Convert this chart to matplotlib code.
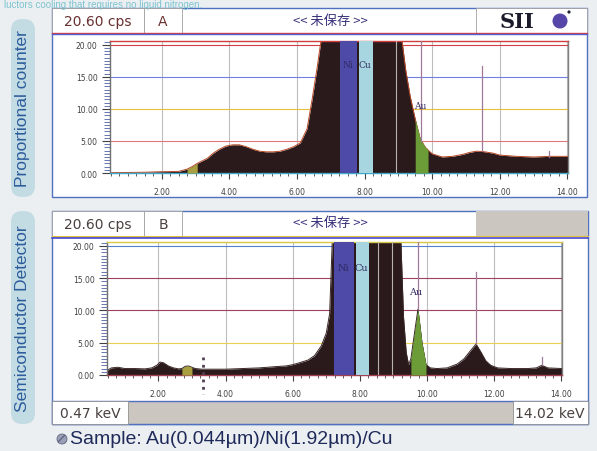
import matplotlib.pyplot as plt
from matplotlib.patches import Rectangle, FancyBboxPatch, Circle
import numpy as np

# ---- data (keV, cps) ----
kev_a = [0.47, 1.0, 1.5, 2.0, 2.5, 2.75, 2.9, 3.05, 3.2, 3.35, 3.5, 3.7, 3.9, 4.1, 4.3,
         4.5, 4.7, 4.9, 5.1, 5.3, 5.5, 5.7, 5.9, 6.1, 6.3, 6.45, 6.6, 6.72, 9.1, 9.22,
         9.35, 9.5, 9.65, 9.8, 9.88, 10.0, 10.3, 10.6, 10.9, 11.1, 11.3, 11.5, 11.8,
         12.0, 12.5, 13.0, 13.5, 14.02]
cps_a = [0.05, 0.08, 0.12, 0.2, 0.25, 0.6, 1.0, 1.5, 1.9, 2.3, 3.0, 3.7, 4.2, 4.4, 4.4,
         4.1, 3.7, 3.4, 3.3, 3.3, 3.4, 3.7, 4.1, 4.7, 6.9, 11.5, 16.5, 21.0, 21.0, 16.0,
         12.0, 8.4, 5.3, 4.0, 3.6, 3.0, 2.5, 2.6, 2.9, 3.2, 3.4, 3.35, 3.1,
         2.8, 2.6, 2.5, 2.6, 2.6]

kev_b = [0.47, 0.6, 0.8, 1.0, 1.3, 1.6, 1.8, 1.95, 2.05, 2.15, 2.3, 2.45, 2.6, 2.7, 2.8,
         2.9, 3.0, 3.1, 3.3, 3.6, 4.0, 4.5, 5.0, 5.5, 5.8, 6.0, 6.2, 6.45, 6.65, 6.85,
         7.0, 7.1, 7.18, 9.22, 9.3, 9.38, 9.45, 9.52, 9.6, 9.73, 9.85, 9.97, 10.1, 10.3,
         10.6, 10.9, 11.1, 11.3, 11.46, 11.6, 11.75, 11.9, 12.1, 12.5, 13.0, 13.25,
         13.42, 13.6, 14.02]
cps_b = [0.7, 1.1, 1.2, 1.0, 1.0, 0.95, 1.1, 1.5, 2.0, 1.9, 1.4, 1.1, 0.95, 1.0, 1.35,
         1.4, 1.2, 1.0, 0.9, 0.9, 0.9, 1.0, 1.1, 1.3, 1.4, 1.6, 1.9, 2.3, 3.0, 4.5,
         6.5, 9.5, 21.0, 21.0, 9.0, 3.5, 1.6, 2.5, 5.5, 10.2, 5.0, 1.6, 1.1, 1.0,
         1.1, 1.7, 2.5, 3.8, 4.8, 3.6, 2.2, 1.5, 1.1, 1.0, 1.0, 1.1,
         1.5, 1.1, 1.0]

# element regions (keV) and marker lines (keV, top, bottom)
bands_a = {'Ni': (7.27, 7.77), 'Cu': (7.83, 8.24), 'Au': (9.5, 9.88), 'low': (2.7, 3.1)}
bands_b = {'Ni': (7.22, 7.82), 'Cu': (7.88, 8.27), 'Au': (9.52, 9.97), 'low': (2.7, 3.0)}
markers_a = [(9.68, 20.6, 5.0), (11.47, 16.7, 3.4), (13.45, 3.4, 2.5)]
markers_b = [(9.73, 20.6, 10.2), (11.46, 16.0, 4.8), (13.42, 2.8, 1.5)]
light_a = [8.92]
light_b = [8.54, 8.96]

x_ticks = [2, 4, 6, 8, 10, 12, 14]
y_ticks = [0, 5, 10, 15, 20]

W, H = 597, 452
fig = plt.figure(figsize=(W / 100, H / 100), dpi=100)
fig.patch.set_facecolor('#eceff1')

bg = fig.add_axes([0, 0, 1, 1])
bg.set_xlim(0, W)
bg.set_ylim(H, 0)
bg.axis('off')


def box(x0, y0, x1, y1, fc, ec='none', lw=0.8, z=1):
    bg.add_patch(Rectangle((x0, y0), x1 - x0, y1 - y0, fc=fc, ec=ec, lw=lw, zorder=z))


def axes_px(l, t, r, b):
    return fig.add_axes([l / W, 1 - b / H, (r - l) / W, (b - t) / H])


# faded text at the very top (cut off in the scan)
bg.text(4, 0.5, 'luctors cooling that requires no liquid nitrogen.', color='#7cc4d0',
        fontsize=7, family='Liberation Sans', va='top')

# left labels
for (y0, y1, label) in [(20, 198, 'Proportional counter'), (212, 425, 'Semiconductor Detector')]:
    bg.add_patch(FancyBboxPatch((11, y0), 24, y1 - y0, boxstyle='round,pad=0,rounding_size=11',
                                fc='#c3dce4', ec='none', zorder=1))
    bg.text(23, (y0 + y1) / 2, label, rotation=90, ha='center', va='center',
            color='#2c5c9c', fontsize=12.5, family='Liberation Sans', zorder=2)

# panel A frame + header
box(52, 9, 587, 198, 'white', '#5070c0', 1.0)
box(52, 9, 144, 34, 'white', '#a0a0a0', 0.6, 2)
box(144, 9, 182, 34, 'white', '#a0a0a0', 0.6, 2)
box(476, 9, 587, 34, 'white', '#a0a0a0', 0.6, 2)
bg.plot([52, 587], [33.5, 33.5], color='#d84040', lw=1.0, zorder=3)
bg.plot([52, 587], [35, 35], color='#5060d0', lw=1.0, zorder=3)
bg.text(98, 22, '20.60 cps', ha='center', va='center', fontsize=10, color='#6a3030', zorder=4)
bg.text(163, 22, 'A', ha='center', va='center', fontsize=10, color='#6a3030', zorder=4)
bg.text(330, 21, '<< 未保存 >>', ha='center', va='center', fontsize=9.5, color='#38307a',
        family=['Noto Sans CJK JP', 'DejaVu Sans'], zorder=4)
bg.text(517, 22, 'SII', ha='center', va='center', fontsize=15, color='#1a1a2a',
        family='DejaVu Serif', weight='bold', zorder=4)
bg.add_patch(Circle((560, 22), 7.5, fc='#5546a8', ec='none', zorder=4))
bg.add_patch(Circle((569, 13), 1.6, fc='#202030', ec='none', zorder=4))

# panel B frame + header + bottom bar
box(52, 212, 588, 425, 'white', '#5070c0', 1.0)
box(52, 212, 144, 238, 'white', '#a0a0a0', 0.6, 2)
box(144, 212, 182, 238, 'white', '#a0a0a0', 0.6, 2)
box(476, 212, 588, 238, '#cbc7c0', 'none', 0.6, 2)
bg.plot([52, 588], [237, 237], color='#e0c040', lw=0.8, zorder=3)
bg.plot([52, 588], [239, 239], color='#4848d0', lw=1.2, zorder=3)
bg.text(98, 225, '20.60 cps', ha='center', va='center', fontsize=10, color='#4a4040', zorder=4)
bg.text(163, 225, 'B', ha='center', va='center', fontsize=10, color='#4a4040', zorder=4)
bg.text(330, 224, '<< 未保存 >>', ha='center', va='center', fontsize=9.5, color='#38307a',
        family=['Noto Sans CJK JP', 'DejaVu Sans'], zorder=4)
box(52, 402, 588, 425, '#cbc7c0', '#5070c0', 1.0, 2)
box(52, 402, 128, 425, 'white', '#909090', 0.6, 3)
box(513, 402, 588, 425, 'white', '#909090', 0.6, 3)
bg.text(90, 414, '0.47 keV', ha='center', va='center', fontsize=10, color='#4a4040', zorder=4)
bg.text(550, 414, '14.02 keV', ha='center', va='center', fontsize=10, color='#4a4040', zorder=4)

# sample caption
bg.add_patch(Circle((62, 440), 5, fc='#9aa0b8', ec='#606880', lw=0.6, hatch='////', zorder=4))
bg.text(70, 440, 'Sample: Au(0.044µm)/Ni(1.92µm)/Cu', ha='left', va='center', fontsize=14,
        family='Liberation Sans', color='#1e2a5a', zorder=4)


def spectrum(ax, kev, cps, bands, markers, light, grid_cols, edge, top_col, zero_col):
    kev = np.array(kev)
    cps = np.array(cps)
    ax.set_facecolor('white')
    ax.set_xlim(0.47, 14.02)
    ax.set_ylim(0, 20.6)
    for x in x_ticks:
        ax.axvline(x, color='#bdbdbd', lw=0.8, zorder=1)
    for y, c in zip([5, 10, 15, 20], grid_cols):
        ax.axhline(y, color=c, lw=0.8, zorder=1)
    ax.fill_between(kev, cps, color='#2b1a1c', lw=0, zorder=2)
    ax.plot(kev, cps, color=edge, lw=0.7, zorder=2.5)
    lo, hi = bands['low']
    m = (kev >= lo) & (kev <= hi)
    ax.fill_between(kev, cps, where=m, color='#a8a040', lw=0, zorder=3)
    ax.axvspan(*bands['Ni'], color='#4d4aa8', lw=0, zorder=3)
    ax.axvspan(*bands['Cu'], color='#a8d6e0', lw=0, zorder=3)
    lo, hi = bands['Au']
    m = (kev >= lo) & (kev <= hi)
    ax.fill_between(kev, cps, where=m, color='#6c9c38', lw=0, zorder=3)
    for x in light:
        ax.axvline(x, color='#b8b4ac', lw=0.8, zorder=3.5)
    for x, t, b in markers:
        ax.plot([x, x], [b, t], color='#a07898', lw=0.9, zorder=4)
    ax.set_xticks(x_ticks)
    ax.set_xticklabels(['%.2f' % v for v in x_ticks])
    ax.set_xticks(np.arange(0.5, 14.01, 0.25), minor=True)
    ax.set_yticks(y_ticks)
    ax.set_yticklabels(['%.2f' % v for v in y_ticks])
    ax.set_yticks(np.arange(0, 20.6, 0.5), minor=True)
    ax.tick_params(axis='x', which='major', length=4, pad=6, labelsize=5.5, colors='#404040')
    ax.tick_params(axis='x', which='minor', length=2.5, color='#404040')
    ax.tick_params(axis='y', which='major', length=6, pad=3, labelsize=5.5, colors='#404040')
    ax.tick_params(axis='y', which='minor', length=4, color='#5060a0')
    ax.spines['top'].set_color(top_col)
    ax.spines['bottom'].set_color(zero_col)
    ax.spines['left'].set_color('#707070')
    ax.spines['right'].set_color('#808080')
    for s in ax.spines.values():
        s.set_linewidth(1.0)


ax_a = axes_px(110, 42, 568, 174)
spectrum(ax_a, kev_a, cps_a, bands_a, markers_a, light_a,
         ['#e07878', '#e8c040', '#7080e0', '#d04040'], '#b84a28', '#d04040', '#40a8c8')
ax_a.text(7.52, 17, 'Ni', ha='center', va='center', fontsize=6.5, color='#302860',
          family='DejaVu Serif', zorder=5)
ax_a.text(8.02, 17, 'Cu', ha='center', va='center', fontsize=6.5, color='#302860',
          family='DejaVu Serif', zorder=5)
ax_a.text(9.65, 10.5, 'Au', ha='center', va='center', fontsize=6.5, color='#302860',
          family='DejaVu Serif', zorder=5)

ax_b = axes_px(107, 243, 562, 376)
spectrum(ax_b, kev_b, cps_b, bands_b, markers_b, light_b,
         ['#e8d050', '#a04060', '#a04060', '#5080d0'], '#3a2826', '#d8c848', '#a04050')
ax_b.plot([3.34, 3.34], [2.8, -3.0], ls=':', color='#504050', lw=2, clip_on=False, zorder=5)
ax_b.text(7.52, 16.7, 'Ni', ha='center', va='center', fontsize=7, color='#302860',
          family='DejaVu Serif', zorder=5)
ax_b.text(8.05, 16.7, 'Cu', ha='center', va='center', fontsize=7, color='#302860',
          family='DejaVu Serif', zorder=5)
ax_b.text(9.67, 12.9, 'Au', ha='center', va='center', fontsize=7, color='#302860',
          family='DejaVu Serif', zorder=5)

fig.savefig('out.png', dpi=100, facecolor=fig.get_facecolor())
